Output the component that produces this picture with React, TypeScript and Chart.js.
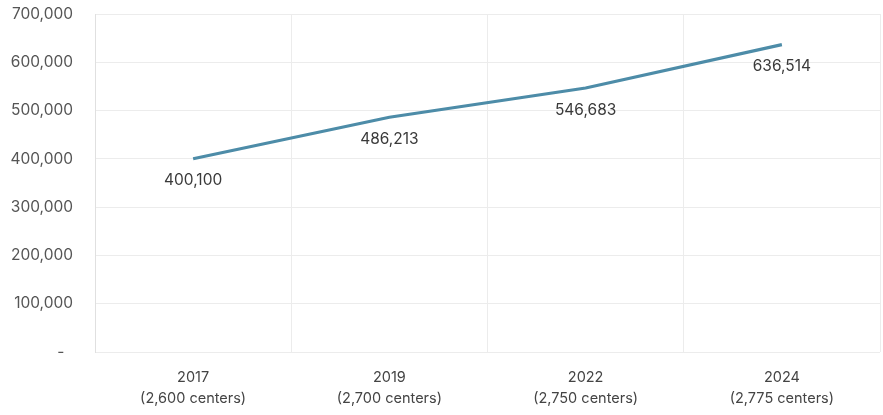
import React, { useEffect, useRef } from "react";
import { Chart, registerables } from "chart.js";

Chart.register(...registerables);

const years = ["2017", "2019", "2022", "2024"];
const centers = ["(2,600 centers)", "(2,700 centers)", "(2,750 centers)", "(2,775 centers)"];
const children = [400100, 486213, 546683, 636514];
const yTicks = [0, 100000, 200000, 300000, 400000, 500000, 600000, 700000];

const FONT = "Inter, 'DejaVu Sans', sans-serif";

const dataLabels = {
  id: "dataLabels",
  afterDatasetsDraw(chart: any) {
    const ctx = chart.ctx;
    const meta = chart.getDatasetMeta(0);
    ctx.save();
    ctx.font = `15.5px ${FONT}`;
    ctx.fillStyle = "#3a3a3a";
    ctx.textAlign = "center";
    ctx.textBaseline = "middle";
    meta.data.forEach((pt: any, i: number) => {
      const v = children[i];
      ctx.fillText(v.toLocaleString("en-US"), pt.x, pt.y + 22);
    });
    ctx.restore();
  },
};

export default function App() {
  const ref = useRef<HTMLCanvasElement | null>(null);
  useEffect(() => {
    if (!ref.current) return;
    const labels = years.map((y, i) => [y, centers[i]]);
    const chart = new Chart(ref.current, {
      type: "line",
      data: {
        labels,
        datasets: [
          {
            data: children,
            borderColor: "#4d8ca8",
            borderWidth: 3.2,
            pointRadius: 0,
            tension: 0,
          },
          {
            data: children,
            borderColor: "rgba(200,226,236,0.85)",
            borderWidth: 0.9,
            pointRadius: 0,
            tension: 0,
          },
        ],
      },
      options: {
        animation: false,
        responsive: false,
        maintainAspectRatio: false,
        layout: { padding: { left: 0, right: 3, top: 14, bottom: 0 } },
        plugins: { legend: { display: false }, tooltip: { enabled: false } },
        scales: {
          x: {
            offset: true,
            grid: { color: "#ececec", drawTicks: false, offset: true },
            border: { display: false },
            ticks: {
              font: { family: FONT, size: 14.5, lineHeight: 1.45 },
              color: "#444444",
              padding: 15,
              maxRotation: 0,
            },
            afterFit: (s: any) => {
              s.height = 63;
              s.paddingLeft = 0;
              s.paddingRight = 0;
            },
          },
          y: {
            min: 0,
            max: 700000,
            afterBuildTicks: (s: any) => {
              s.ticks = yTicks.map((v) => ({ value: v }));
            },
            grid: { color: "#ececec", drawTicks: false },
            border: { color: "#e0e0e0" },
            ticks: {
              font: { family: FONT, size: 15.5 },
              color: "#555555",
              padding: 22,
              callback: (v: any) => (Number(v) === 0 ? "-  " : Number(v).toLocaleString("en-US")),
            },
            afterFit: (s: any) => {
              s.width = 95;
              s.paddingTop = 0;
              s.paddingBottom = 0;
            },
          },
        },
      },
      plugins: [dataLabels],
    });
    return () => chart.destroy();
  }, []);
  return (
    <div style={{ position: "fixed", left: 0, top: 0, width: 883, height: 415, background: "#fff" }}>
      <canvas ref={ref} width={883} height={415} style={{ width: 883, height: 415 }} />
    </div>
  );
}
